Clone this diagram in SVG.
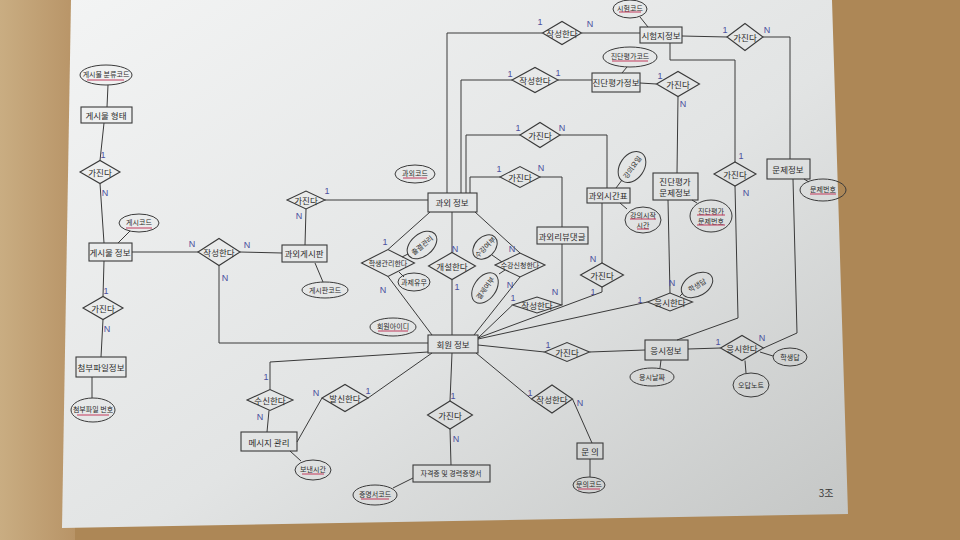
<svg xmlns="http://www.w3.org/2000/svg" width="960" height="540" viewBox="0 0 960 540">
<defs>
<linearGradient id="paper" x1="0" y1="0" x2="1" y2="1">
<stop offset="0" stop-color="#f3f4f4"/>
<stop offset="0.55" stop-color="#e2e4e4"/>
<stop offset="1" stop-color="#c4c6c5"/>
</linearGradient>
<linearGradient id="wood" x1="0" y1="0" x2="1" y2="0">
<stop offset="0" stop-color="#c9ad82"/>
<stop offset="1" stop-color="#b89467"/>
</linearGradient>
<style>
.ent rect{fill:none;stroke:#3a3a3a;stroke-width:1.1}
.rel polygon{fill:none;stroke:#3a3a3a;stroke-width:1.1}
.att ellipse{fill:none;stroke:#3a3a3a;stroke-width:1}
text{font-family:"Noto Sans CJK KR","Noto Sans",sans-serif;fill:#2b2b2b;text-anchor:middle;dominant-baseline:central}
.t{font-size:8.5px}
.s{font-size:7px}
.card{font-family:"Liberation Sans",sans-serif;font-size:9px;fill:#4a4f9e}
.one{font-family:"Liberation Sans",sans-serif;font-size:9px;fill:#4a4f9e}
#connectors path,#connectors line{fill:none;stroke:#3a3a3a;stroke-width:1}
.ul{stroke:#c23a5c;stroke-width:1;fill:none}
</style>
</defs>
<rect x="0" y="0" width="960" height="540" fill="#ad8756"/>
<rect x="0" y="0" width="75" height="540" fill="url(#wood)"/>
<polygon points="71,0 832,0 848,514 62,528" fill="url(#paper)"/>

<g id="connectors">
<line x1="108" y1="85" x2="107" y2="107"/>
<line x1="104" y1="123" x2="100" y2="160.5"/>
<line x1="100" y1="183.5" x2="104" y2="243"/>
<line x1="130" y1="231" x2="118" y2="243"/>
<line x1="104" y1="261" x2="103" y2="296.5"/>
<line x1="103" y1="319.5" x2="101" y2="357"/>
<line x1="92" y1="377" x2="92" y2="398"/>
<line x1="132" y1="252" x2="198" y2="252"/>
<line x1="240" y1="252" x2="282" y2="253"/>
<path d="M219,265.5 V343 H428"/>
<line x1="305" y1="245" x2="306" y2="209"/>
<line x1="315" y1="263" x2="323" y2="282"/>
<line x1="325" y1="200" x2="428" y2="200"/>
<line x1="430" y1="212" x2="388" y2="249.5"/>
<line x1="388" y1="276.5" x2="432" y2="335"/>
<line x1="408" y1="254" x2="402" y2="257"/>
<line x1="404" y1="277" x2="399" y2="272"/>
<line x1="452" y1="212" x2="452" y2="252.5"/>
<line x1="452" y1="279.5" x2="452" y2="335"/>
<line x1="475" y1="212" x2="520" y2="253"/>
<line x1="520" y1="277" x2="474" y2="335"/>
<line x1="492" y1="255" x2="502" y2="262"/>
<line x1="499" y1="274" x2="505" y2="270"/>
<line x1="512.5" y1="305" x2="478" y2="338"/>
<path d="M561.5,305 H562 V244"/>
<path d="M500,177 H470 V193"/>
<path d="M540,177 H562 V227"/>
<path d="M520,135 H466 V193"/>
<path d="M560,135 H607 V188"/>
<path d="M512,80 H461 V193"/>
<line x1="558" y1="80" x2="592" y2="80"/>
<path d="M542.5,33 H447 V193"/>
<line x1="581.5" y1="33" x2="640" y2="33"/>
<line x1="640" y1="17" x2="648" y2="27"/>
<line x1="627" y1="67" x2="622" y2="73"/>
<line x1="640" y1="83" x2="656.5" y2="84"/>
<line x1="678" y1="96.5" x2="677" y2="173"/>
<line x1="682" y1="36" x2="727" y2="37"/>
<path d="M763,37 H790 V159"/>
<path d="M670,43 V60 H735 V162"/>
<path d="M735,186 L738,318 L677,340"/>
<line x1="622" y1="180" x2="616" y2="188"/>
<line x1="627" y1="209" x2="620" y2="203"/>
<line x1="697" y1="203" x2="692" y2="200"/>
<line x1="809" y1="182" x2="804" y2="179"/>
<line x1="602" y1="203" x2="602" y2="263"/>
<path d="M602,287 V292 L478,338"/>
<line x1="668" y1="200" x2="670" y2="293"/>
<line x1="683" y1="293" x2="680" y2="296"/>
<line x1="647.5" y1="302" x2="478" y2="339"/>
<line x1="478" y1="345" x2="544.5" y2="352"/>
<line x1="589.5" y1="352" x2="645" y2="350"/>
<line x1="660" y1="368" x2="661" y2="360"/>
<line x1="688" y1="349" x2="720.5" y2="348"/>
<path d="M763.5,348 L797,333 L793,179"/>
<line x1="773" y1="356" x2="760" y2="352"/>
<line x1="746" y1="373" x2="745" y2="360.5"/>
<path d="M428,352 L270,362 V389.5"/>
<line x1="269" y1="410.5" x2="267" y2="432"/>
<line x1="297" y1="442" x2="322" y2="398"/>
<line x1="368" y1="398" x2="432" y2="353"/>
<line x1="290" y1="451" x2="301" y2="461"/>
<line x1="452" y1="353" x2="450" y2="401"/>
<line x1="450" y1="429" x2="451" y2="465"/>
<line x1="413" y1="478" x2="393" y2="488"/>
<line x1="476" y1="353" x2="531.5" y2="399"/>
<line x1="572.5" y1="399" x2="592" y2="443"/>
<line x1="590" y1="459" x2="590" y2="477"/>
</g>

<g id="e-post-type" class="ent"><rect x="81" y="107" width="51" height="16"/><text class="t" x="106" y="115">게시물 형태</text></g>
<g id="e-post" class="ent"><rect x="89" y="243" width="43" height="18"/><text class="t" x="110" y="252">게시물 정보</text></g>
<g id="e-attach" class="ent"><rect x="76" y="357" width="50" height="20"/><text class="t" x="101" y="367">첨부파일정보</text></g>
<g id="e-board" class="ent"><rect x="282" y="245" width="45" height="17"/><text class="t" x="304" y="253">과외게시판</text></g>
<g id="e-tutor" class="ent"><rect x="428" y="193" width="49" height="19"/><text class="t" x="452" y="202">과외 정보</text></g>
<g id="e-member" class="ent"><rect x="428" y="335" width="50" height="18"/><text class="t" x="453" y="344">회원 정보</text></g>
<g id="e-message" class="ent"><rect x="241" y="432" width="56" height="19"/><text class="t" x="269" y="442">메시지 관리</text></g>
<g id="e-cert" class="ent"><rect x="413" y="465" width="77" height="17"/><text class="s" x="451" y="473">자격증 및 경력증명서</text></g>
<g id="e-inquiry" class="ent"><rect x="577" y="443" width="26" height="16"/><text class="t" x="590" y="451">문 의</text></g>
<g id="e-review" class="ent"><rect x="537" y="227" width="51" height="17"/><text class="t" x="562" y="236">과외리뷰댓글</text></g>
<g id="e-timetable" class="ent"><rect x="587" y="188" width="43" height="15"/><text class="t" x="608" y="195">과외시간표</text></g>
<g id="e-diag" class="ent"><rect x="592" y="73" width="48" height="19"/><text class="t" x="616" y="82">진단평가정보</text></g>
<g id="e-exam" class="ent"><rect x="640" y="27" width="42" height="16"/><text class="t" x="661" y="35">시험지정보</text></g>
<g id="e-diagq" class="ent"><rect x="653" y="173" width="45" height="27"/><text class="t" x="675" y="181">진단평가</text><text class="t" x="675" y="192">문제정보</text></g>
<g id="e-question" class="ent"><rect x="767" y="159" width="43" height="20"/><text class="t" x="788" y="169">문제정보</text></g>
<g id="e-attempt" class="ent"><rect x="645" y="340" width="43" height="20"/><text class="t" x="666" y="350">응시정보</text></g>

<g id="r1" class="rel"><polygon points="80,172 100,160.5 120,172 100,183.5"/><text class="t" x="100" y="172">가진다</text></g>
<g id="r2" class="rel"><polygon points="83,308 103,296.5 123,308 103,319.5"/><text class="t" x="103" y="308">가진다</text></g>
<g id="r3" class="rel"><polygon points="198,252 219,238.5 240,252 219,265.5"/><text class="t" x="219" y="252">작성한다</text></g>
<g id="r4" class="rel"><polygon points="287,200 306,191 325,200 306,209"/><text class="t" x="306" y="200">가진다</text></g>
<g id="r5" class="rel"><polygon points="361.5,263 388,249.5 414.5,263 388,276.5"/><text class="s" x="388" y="263">학생관리한다</text></g>
<g id="r6" class="rel"><polygon points="428.5,266 452,252.5 475.5,266 452,279.5"/><text class="t" x="452" y="266">개설한다</text></g>
<g id="r7" class="rel"><polygon points="495,265 520,253 545,265 520,277"/><text class="s" x="520" y="265">수강신청한다</text></g>
<g id="r8" class="rel"><polygon points="512.5,305 537,297 561.5,305 537,313"/><text class="t" x="537" y="305">작성한다</text></g>
<g id="r9" class="rel"><polygon points="500,177 520,166.5 540,177 520,187.5"/><text class="t" x="520" y="177">가진다</text></g>
<g id="r10" class="rel"><polygon points="520,135 540,122.5 560,135 540,147.5"/><text class="t" x="540" y="135">가진다</text></g>
<g id="r11" class="rel"><polygon points="512,80 535,67.5 558,80 535,92.5"/><text class="t" x="535" y="80">작성한다</text></g>
<g id="r12" class="rel"><polygon points="542.5,33 562,21.5 581.5,33 562,44.5"/><text class="t" x="562" y="33">작성한다</text></g>
<g id="r13" class="rel"><polygon points="656.5,84 678,71.5 699.5,84 678,96.5"/><text class="t" x="678" y="84">가진다</text></g>
<g id="r14" class="rel"><polygon points="727,37 745,23.5 763,37 745,50.5"/><text class="t" x="745" y="37">가진다</text></g>
<g id="r15" class="rel"><polygon points="714,174 735,162 756,174 735,186"/><text class="t" x="735" y="174">가진다</text></g>
<g id="r16" class="rel"><polygon points="580.5,275 602,263 623.5,275 602,287"/><text class="t" x="602" y="275">가진다</text></g>
<g id="r17" class="rel"><polygon points="647.5,302 670,293 692.5,302 670,311"/><text class="t" x="670" y="302">응시한다</text></g>
<g id="r18" class="rel"><polygon points="544.5,352 567,342.5 589.5,352 567,361.5"/><text class="t" x="567" y="352">가진다</text></g>
<g id="r19" class="rel"><polygon points="720.5,348 742,335.5 763.5,348 742,360.5"/><text class="t" x="742" y="348">응시한다</text></g>
<g id="r20" class="rel"><polygon points="247,400 270,389.5 293,400 270,410.5"/><text class="t" x="270" y="400">수신한다</text></g>
<g id="r21" class="rel"><polygon points="322,398 345,384.5 368,398 345,411.5"/><text class="t" x="345" y="398">발신한다</text></g>
<g id="r22" class="rel"><polygon points="427.5,415 450,401 472.5,415 450,429"/><text class="t" x="450" y="415">가진다</text></g>
<g id="r23" class="rel"><polygon points="531.5,399 552,385 572.5,399 552,413"/><text class="t" x="552" y="399">작성한다</text></g>

<g id="a-posttype-code" class="att"><ellipse cx="106" cy="75" rx="26" ry="10"/><text class="s" x="106" y="74">게시물 분류코드</text><line class="ul" x1="87" y1="80" x2="124" y2="80"/></g>
<g id="a-post-code" class="att"><ellipse cx="139" cy="223" rx="20" ry="9"/><text class="s" x="139" y="222">게시코드</text><line class="ul" x1="126" y1="228" x2="152" y2="228"/></g>
<g id="a-attach-no" class="att"><ellipse cx="93" cy="410" rx="22" ry="12"/><text class="s" x="93" y="409">첨부파일 번호</text><line class="ul" x1="77" y1="415" x2="109" y2="415"/></g>
<g id="a-board-code" class="att"><ellipse cx="325" cy="290" rx="23" ry="8"/><text class="s" x="325" y="290">게시판코드</text></g>
<g id="a-tutor-code" class="att"><ellipse cx="415" cy="174" rx="20" ry="9"/><text class="s" x="415" y="173">과외코드</text><line class="ul" x1="403" y1="178" x2="427" y2="178"/></g>
<g id="a-member-id" class="att"><ellipse cx="393" cy="327" rx="23" ry="9"/><text class="s" x="393" y="326">회원아이디</text><line class="ul" x1="378" y1="331" x2="408" y2="331"/></g>
<g id="a-attend" class="att"><ellipse cx="422" cy="245" rx="17" ry="11" transform="rotate(-40 422 245)"/><text class="s" x="422" y="245" transform="rotate(-40 422 245)">출결관리</text></g>
<g id="a-homework" class="att"><ellipse cx="414" cy="282" rx="16" ry="9"/><text class="s" x="414" y="282">과제유무</text></g>
<g id="a-enroll" class="att"><ellipse cx="485" cy="247" rx="14" ry="10" transform="rotate(-45 485 247)"/><text class="s" x="485" y="247" transform="rotate(-45 485 247)">수강여부</text></g>
<g id="a-pay" class="att"><ellipse cx="485" cy="288" rx="17" ry="11" transform="rotate(-55 485 288)"/><text class="s" x="485" y="288" transform="rotate(-55 485 288)">결제여부</text></g>
<g id="a-sent" class="att"><ellipse cx="313" cy="470" rx="18" ry="10"/><text class="s" x="313" y="469">보낸시간</text><line class="ul" x1="302" y1="474" x2="324" y2="474"/></g>
<g id="a-cert-code" class="att"><ellipse cx="375" cy="495" rx="22" ry="10"/><text class="s" x="375" y="494">증명서코드</text><line class="ul" x1="361" y1="499" x2="389" y2="499"/></g>
<g id="a-inq-code" class="att"><ellipse cx="589" cy="485" rx="16" ry="8"/><text class="s" x="589" y="484">문의코드</text><line class="ul" x1="578" y1="489" x2="600" y2="489"/></g>
<g id="a-exam-code" class="att"><ellipse cx="630" cy="9" rx="17" ry="9"/><text class="s" x="630" y="8">시험코드</text><line class="ul" x1="619" y1="12" x2="641" y2="12"/></g>
<g id="a-diag-code" class="att"><ellipse cx="630" cy="57" rx="27" ry="10"/><text class="s" x="630" y="56">진단평가코드</text><line class="ul" x1="612" y1="61" x2="648" y2="61"/></g>
<g id="a-day" class="att"><ellipse cx="632" cy="167" rx="17" ry="12" transform="rotate(-55 632 167)"/><text class="s" x="632" y="167" transform="rotate(-55 632 167)">강의요일</text></g>
<g id="a-start" class="att"><ellipse cx="643" cy="220" rx="18" ry="13"/><text class="s" x="643" y="215">강의시작</text><text class="s" x="643" y="225">시간</text><line class="ul" x1="630" y1="219" x2="656" y2="219"/><line class="ul" x1="637" y1="229" x2="649" y2="229"/></g>
<g id="a-diagq-no" class="att"><ellipse cx="711" cy="216" rx="21" ry="16"/><text class="s" x="711" y="211">진단평가</text><text class="s" x="711" y="221">문제번호</text><line class="ul" x1="697" y1="215" x2="725" y2="215"/><line class="ul" x1="697" y1="225" x2="725" y2="225"/></g>
<g id="a-q-no" class="att"><ellipse cx="823" cy="190" rx="23" ry="11"/><text class="s" x="823" y="189">문제번호</text><line class="ul" x1="810" y1="194" x2="836" y2="194"/></g>
<g id="a-answer1" class="att"><ellipse cx="697" cy="285" rx="17" ry="11" transform="rotate(-30 697 285)"/><text class="s" x="697" y="285" transform="rotate(-30 697 285)">학생답</text></g>
<g id="a-answer2" class="att"><ellipse cx="790" cy="357" rx="17" ry="9"/><text class="s" x="790" y="357">학생답</text></g>
<g id="a-wrong" class="att"><ellipse cx="751" cy="385" rx="18" ry="12"/><text class="s" x="751" y="385">오답노트</text></g>
<g id="a-date" class="att"><ellipse cx="652" cy="377" rx="22" ry="9"/><text class="s" x="652" y="377">응시날짜</text></g>

<g id="cards">
<text class="one" x="103" y="155">1</text><text class="card" x="105" y="193">N</text>
<text class="one" x="106" y="291">1</text><text class="card" x="107" y="329">N</text>
<text class="card" x="192" y="244">N</text><text class="card" x="247" y="245">N</text><text class="card" x="225" y="278">N</text>
<text class="one" x="327" y="191">1</text><text class="card" x="299" y="216">N</text>
<text class="one" x="385" y="242">1</text><text class="card" x="383" y="290">N</text>
<text class="card" x="455" y="249">N</text><text class="one" x="457" y="287">1</text>
<text class="card" x="512" y="249">N</text><text class="card" x="510" y="285">N</text>
<text class="one" x="513" y="298">1</text><text class="card" x="555" y="292">N</text>
<text class="one" x="499" y="169">1</text><text class="card" x="541" y="168">N</text>
<text class="one" x="518" y="128">1</text><text class="card" x="562" y="128">N</text>
<text class="one" x="510" y="74">1</text><text class="one" x="558" y="73">1</text>
<text class="one" x="540" y="22">1</text><text class="card" x="590" y="24">N</text>
<text class="one" x="660" y="76">1</text><text class="card" x="683" y="104">N</text>
<text class="one" x="725" y="30">1</text><text class="card" x="767" y="30">N</text>
<text class="one" x="741" y="156">1</text><text class="card" x="746" y="193">N</text>
<text class="card" x="593" y="259">N</text><text class="one" x="593" y="292">1</text>
<text class="card" x="672" y="283">N</text><text class="one" x="640" y="300">1</text>
<text class="one" x="548" y="345">1</text>
<text class="one" x="718" y="342">1</text><text class="card" x="762" y="338">N</text>
<text class="one" x="266" y="377">1</text><text class="card" x="260" y="417">N</text>
<text class="card" x="316" y="393">N</text><text class="one" x="368" y="391">1</text>
<text class="one" x="453" y="396">1</text><text class="card" x="456" y="439">N</text>
<text class="one" x="530" y="393">1</text><text class="card" x="580" y="403">N</text>
</g>
<text x="826" y="492" style="font-size:10px;fill:#3a3a3a">3조</text>
</svg>
